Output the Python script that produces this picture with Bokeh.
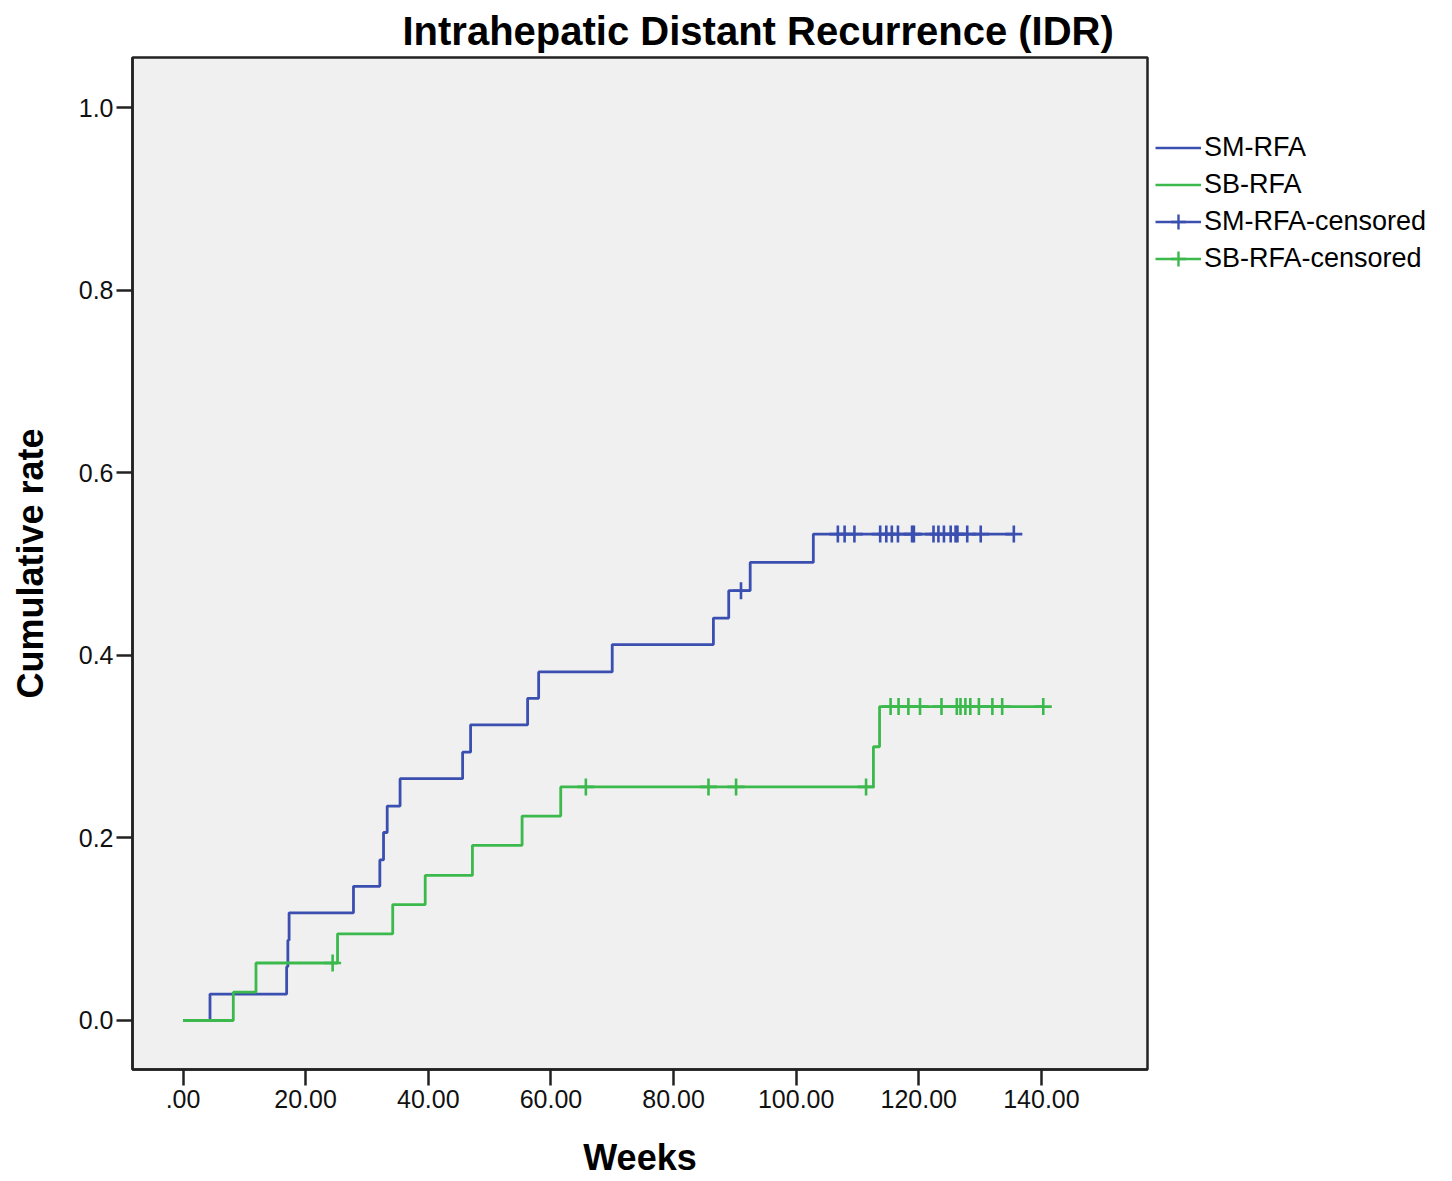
import numpy as np
from bokeh.plotting import figure
from bokeh.layouts import row
from bokeh.models import Range1d, FixedTicker, Legend, LegendItem
from bokeh.embed import file_html
from bokeh.resources import INLINE

# ---------------- data ----------------
sm_times = [0.0, 4.4, 16.9, 17.1, 17.3, 27.8, 32.1, 32.7, 33.3, 35.4, 45.6, 46.9,
            56.2, 58.0, 70.0, 86.5, 89.0, 92.5, 102.8, 135.5]
sm_rate = [0.0, 0.029, 0.059, 0.088, 0.118, 0.147, 0.176, 0.206, 0.235, 0.265, 0.294, 0.324,
           0.353, 0.382, 0.412, 0.441, 0.471, 0.502, 0.533, 0.533]
sm_censored = [91.0, 106.8, 107.9, 109.5, 113.7, 114.7, 115.6, 116.6, 118.9, 119.2,
               122.4, 123.2, 124.1, 125.2, 126.0, 126.3, 127.9, 130.1, 135.5]

sb_times = [0.0, 8.2, 11.9, 25.2, 34.2, 39.5, 47.2, 55.3, 61.6, 112.6, 113.6, 140.3]
sb_rate = [0.0, 0.031, 0.063, 0.095, 0.127, 0.159, 0.192, 0.224, 0.256, 0.300, 0.344, 0.344]
sb_censored = [24.4, 65.7, 85.7, 90.2, 111.4, 115.4, 116.7, 118.3, 120.2, 123.7, 126.2,
               126.8, 127.6, 128.4, 129.8, 132.0, 133.6, 140.3]

x_ticks = [0, 20, 40, 60, 80, 100, 120, 140]
x_tick_labels = [".00", "20.00", "40.00", "60.00", "80.00", "100.00", "120.00", "140.00"]
y_ticks = [0.0, 0.2, 0.4, 0.6, 0.8, 1.0]
y_tick_labels = ["0.0", "0.2", "0.4", "0.6", "0.8", "1.0"]

series_labels = ["SM-RFA", "SB-RFA", "SM-RFA-censored", "SB-RFA-censored"]

SM_COLOR = "#3B4FB0"
SB_COLOR = "#3CB94C"
FONT = "Liberation Sans"


def level_at(times, rates, ts):
    t = np.asarray(times)
    r = np.asarray(rates)
    idx = np.searchsorted(t, np.asarray(ts), side="right") - 1
    return r[idx].tolist()


sm_cens_y = level_at(sm_times, sm_rate, sm_censored)
sb_cens_y = level_at(sb_times, sb_rate, sb_censored)

# ---------------- main plot ----------------
p = figure(width=1150, height=1181, output_backend="svg", toolbar_location=None,
           x_range=Range1d(-8.24, 157.3), y_range=Range1d(-0.0537, 1.0553),
           min_border_left=132, min_border_right=3, min_border_top=57, min_border_bottom=112,
           title="Intrahepatic Distant Recurrence (IDR)")

p.background_fill_color = "#F0F0F0"
p.border_fill_color = "white"
p.outline_line_color = "#222222"
p.outline_line_width = 2.5
p.xgrid.visible = False
p.ygrid.visible = False

p.title.text_font = FONT
p.title.text_font_size = "40px"
p.title.text_font_style = "bold"
p.title.text_color = "black"
p.title.align = "left"
p.title.offset = 270
p.title.standoff = 9

for ax in (p.xaxis[0], p.yaxis[0]):
    ax.axis_line_color = "#222222"
    ax.axis_line_width = 2.5
    ax.major_tick_line_color = "#222222"
    ax.major_tick_line_width = 2.5
    ax.major_tick_out = 16
    ax.major_tick_in = 0
    ax.minor_tick_line_color = None
    ax.major_label_text_font = FONT
    ax.major_label_text_font_size = "25px"
    ax.major_label_text_color = "#111111"
    ax.axis_label_text_font = FONT
    ax.axis_label_text_font_size = "36px"
    ax.axis_label_text_font_style = "bold"
    ax.axis_label_text_color = "black"

p.xaxis.ticker = FixedTicker(ticks=x_ticks)
p.xaxis.major_label_overrides = {t: l for t, l in zip(x_ticks, x_tick_labels)}
p.xaxis.axis_label = "Weeks"
p.xaxis.major_label_standoff = 4
p.xaxis.axis_label_standoff = 26

p.yaxis.ticker = FixedTicker(ticks=y_ticks)
p.yaxis.major_label_overrides = {t: l for t, l in zip(y_ticks, y_tick_labels)}
p.yaxis.axis_label = "Cumulative rate"
p.yaxis.major_label_standoff = 3
p.yaxis.axis_label_standoff = 25

p.step(sm_times, sm_rate, mode="after", line_color=SM_COLOR, line_width=2.8)
p.step(sb_times, sb_rate, mode="after", line_color=SB_COLOR, line_width=2.8)
p.scatter(sm_censored, sm_cens_y, marker="cross", size=17, line_color=SM_COLOR, line_width=2.6)
p.scatter(sb_censored, sb_cens_y, marker="cross", size=17, line_color=SB_COLOR, line_width=2.6)

# ---------------- legend panel (right of the frame) ----------------
# the same series are drawn here out of view, only so the legend has glyphs to show
q = figure(width=302, height=1181, output_backend="svg", toolbar_location=None,
           x_range=Range1d(0, 1), y_range=Range1d(2, 3), min_border=0,
           x_axis_type=None, y_axis_type=None)
q.outline_line_color = None
q.background_fill_color = "white"
q.border_fill_color = "white"
q.xgrid.visible = False
q.ygrid.visible = False

lg_sm = q.step(sm_times, sm_rate, mode="after", line_color=SM_COLOR, line_width=2.6)
lg_sb = q.step(sb_times, sb_rate, mode="after", line_color=SB_COLOR, line_width=2.6)
lg_smc = q.scatter(sm_censored, sm_cens_y, marker="cross", size=16, line_color=SM_COLOR, line_width=2.4)
lg_sbc = q.scatter(sb_censored, sb_cens_y, marker="cross", size=16, line_color=SB_COLOR, line_width=2.4)

legend = Legend(items=[
    LegendItem(label=series_labels[0], renderers=[lg_sm]),
    LegendItem(label=series_labels[1], renderers=[lg_sb]),
    LegendItem(label=series_labels[2], renderers=[lg_sm, lg_smc]),
    LegendItem(label=series_labels[3], renderers=[lg_sb, lg_sbc]),
], location=(5, 792))
legend.label_text_font = FONT
legend.label_text_font_size = "27px"
legend.label_text_color = "black"
legend.glyph_width = 46
legend.glyph_height = 37
legend.label_height = 37
legend.label_standoff = 3
legend.spacing = 0
legend.padding = 0
legend.margin = 0
legend.border_line_color = None
legend.background_fill_alpha = 0
q.add_layout(legend)

layout = row(p, q, spacing=0)
open("out.html", "w").write(file_html(layout, INLINE))
